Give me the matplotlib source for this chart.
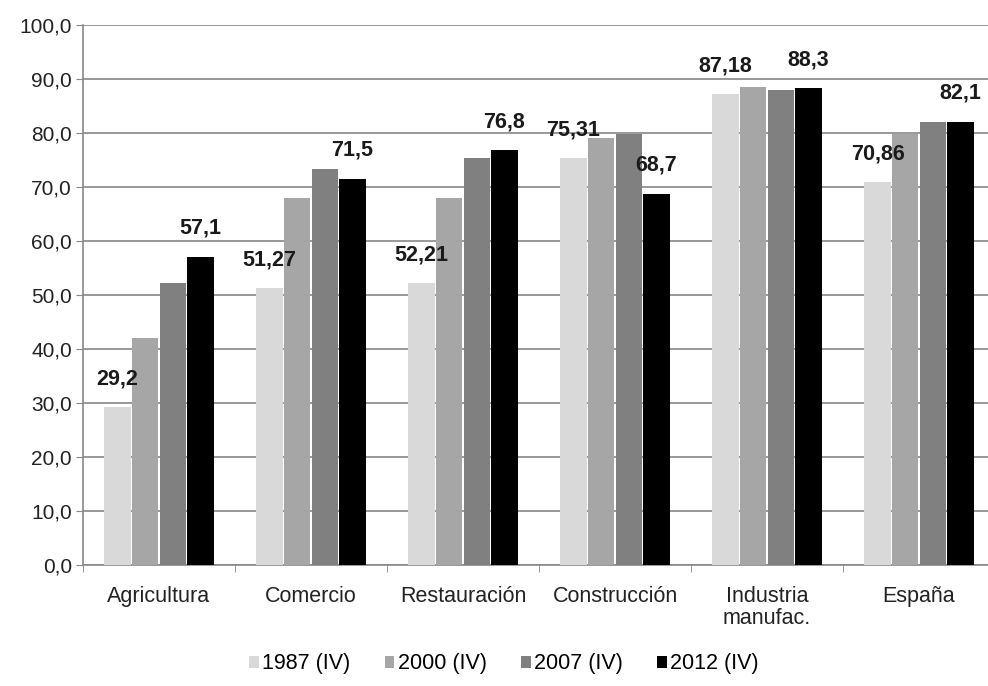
import matplotlib
matplotlib.use("Agg")
import matplotlib.pyplot as plt
import numpy as np

plt.rcParams['font.family'] = ['Liberation Sans', 'DejaVu Sans']

categories = ["Agricultura", "Comercio", "Restauración", "Construcción", "Industria\nmanufac.", "España"]
series_names = ["1987 (IV)", "2000 (IV)", "2007 (IV)", "2012 (IV)"]
v1987 = [29.2, 51.27, 52.21, 75.31, 87.18, 70.86]
v2000 = [42.0, 68.0, 68.0, 79.0, 88.5, 79.8]
v2007 = [52.2, 73.3, 75.4, 79.8, 88.0, 82.0]
v2012 = [57.1, 71.5, 76.8, 68.7, 88.3, 82.1]
labels1987 = ["29,2", "51,27", "52,21", "75,31", "87,18", "70,86"]
labels2012 = ["57,1", "71,5", "76,8", "68,7", "88,3", "82,1"]
yticks = [0, 10, 20, 30, 40, 50, 60, 70, 80, 90, 100]
ytick_labels = ["0,0", "10,0", "20,0", "30,0", "40,0", "50,0", "60,0", "70,0", "80,0", "90,0", "100,0"]

colors = ["#d9d9d9", "#a6a6a6", "#808080", "#000000"]

fig = plt.figure(figsize=(9.88, 6.86), dpi=100)
ax = fig.add_axes([83/988, 1-565/686, (995-83)/988, (565-25)/686])

x = np.arange(len(categories))
step = 0.182
width = 0.172
all_vals = [v1987, v2000, v2007, v2012]
bars = []
for i, (vals, c, name) in enumerate(zip(all_vals, colors, series_names)):
    b = ax.bar(x + (i - 1.5) * step, vals, width, color=c, label=name, zorder=3)
    bars.append(b)

for rect, lab in zip(bars[0], labels1987):
    ax.annotate(lab, (rect.get_x() + rect.get_width()/2, rect.get_height()),
                xytext=(0, 13), textcoords="offset points", ha="center", va="bottom",
                fontsize=15.5, fontweight="bold", color="#1a1a1a", zorder=5)
for rect, lab in zip(bars[3], labels2012):
    ax.annotate(lab, (rect.get_x() + rect.get_width()/2, rect.get_height()),
                xytext=(0, 13), textcoords="offset points", ha="center", va="bottom",
                fontsize=15.5, fontweight="bold", color="#1a1a1a", zorder=5)

ax.set_xlim(-0.5, len(categories) - 0.5)
ax.set_ylim(0, 100)
ax.set_yticks(yticks)
ax.set_yticklabels(ytick_labels, fontsize=15, color="#222222")
ax.yaxis.grid(True, color="#888888", linewidth=1.2, zorder=0)
ax.set_axisbelow(True)

ax.set_xticks(x)
ax.set_xticklabels(categories, fontsize=15.5, color="#222222", linespacing=1.1)
ax.tick_params(axis="x", length=0, pad=15)
ax.set_xticks(np.arange(-0.5, len(categories), 1), minor=True)
ax.tick_params(axis="x", which="minor", length=5, color="#888888")
ax.tick_params(axis="y", length=5, color="#888888", pad=3)

for s in ["top", "right"]:
    ax.spines[s].set_visible(False)
for s in ["left", "bottom"]:
    ax.spines[s].set_color("#888888")
    ax.spines[s].set_linewidth(1.2)

leg = fig.legend(loc="center", bbox_to_anchor=(0.51, 1-664/686), ncol=4, frameon=False,
                 fontsize=15.5, handlelength=0.45, handleheight=0.45, handletextpad=0.15,
                 columnspacing=1.6)

fig.savefig("out.png", dpi=100)
